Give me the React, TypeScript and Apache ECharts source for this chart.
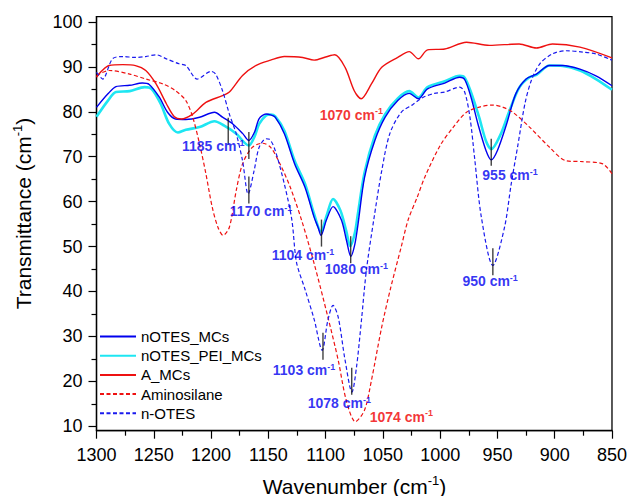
import React, { useEffect, useRef } from "react";
import * as echarts from "echarts";

// [wavenumber, transmittance]
const nOTES_MCs: number[][] = [
  [1300, 81.0], [1290, 84.0], [1283, 85.6], [1271, 85.9], [1260, 86.4], [1254, 86.1],
  [1245, 83.2], [1238, 79.9], [1231, 78.4], [1222, 78.3], [1210, 78.8], [1197, 79.9],
  [1190, 78.8], [1181, 77.3], [1172.5, 75.2], [1167, 73.6], [1162, 75.5], [1158, 78.5],
  [1152, 79.5], [1148, 79.3], [1144, 78.8], [1136, 75.1], [1127, 68.4], [1118, 63.2],
  [1110, 56.5], [1106.6, 54.3], [1104, 52.5], [1099.3, 55.9], [1093.5, 58.9], [1086.2, 55.9],
  [1081.8, 51.4], [1078, 47.8], [1074.5, 50.5], [1071.7, 55], [1066, 65.4], [1057, 73.6],
  [1048, 78.8], [1037, 82.5], [1027, 84.1], [1019, 82.9], [1011, 85.1], [996, 86.4],
  [983, 87.7], [978.6, 87.2], [973, 83.2], [967, 77.3], [960, 71.4], [955.4, 69.3],
  [950, 71.4], [942, 77.3], [934, 84.0], [925, 87.3], [916, 88.4], [904.5, 90.3],
  [893, 90.3], [878, 89.5], [864, 88.0], [850, 85.8],
];

const nOTES_PEI_MCs: number[][] = [
  [1300, 78.9], [1290, 82.5], [1283, 84.4], [1271, 84.6], [1258, 85.5], [1252, 85.1],
  [1244, 81.8], [1236.5, 77.3], [1229, 75.4], [1222, 76.0], [1210, 76.6], [1197, 77.9],
  [1188.5, 76.9], [1178, 75.1], [1167, 72.5], [1162, 74.5], [1158, 77.3], [1152, 79.2],
  [1148, 79.4], [1144, 79.0], [1136, 75.8], [1127, 69.1], [1118, 64.0], [1110, 57.2],
  [1104, 53.3], [1099, 57], [1093.5, 60.6], [1087, 58], [1082, 53.5], [1078.5, 50.1],
  [1074.5, 53], [1072, 57], [1066, 66.5], [1057, 74.7], [1048, 79.5], [1037, 83],
  [1027, 84.6], [1019, 83.2], [1011, 85.5], [996, 86.8], [983, 88.0], [978.6, 87.6],
  [973, 84.3], [966, 78.8], [960, 73.5], [955.4, 71.7], [947, 75.1], [939.4, 80.3],
  [930.7, 85.5], [922, 87.7], [916, 88.2], [904.5, 90.3], [893, 90.2], [878, 89.2],
  [864, 87.3], [850, 84.9],
];

const A_MCs: number[][] = [
  [1300, 87.7], [1295, 89.2], [1289, 90.3], [1277, 90.5], [1266, 90.3], [1257, 89.2],
  [1248, 86.2], [1239, 81.8], [1232, 78.9], [1226, 78.4], [1216, 79.5], [1204.5, 82.1],
  [1190, 83.6], [1184, 84.4], [1172.5, 88.1], [1161, 90.3], [1148, 91.5], [1136, 92.3],
  [1120, 92.1], [1110, 91.5], [1100, 92.2], [1092, 92.7], [1083, 89.9], [1075, 84.7],
  [1069, 82.9], [1060, 86.2], [1051, 89.9], [1037, 92.1], [1027, 93.4], [1019, 91.8],
  [1011, 93.8], [996, 94.0], [977, 95.5], [957, 94.8], [931, 95.1], [916, 94.2],
  [902, 95.1], [878, 94.4], [850, 92.0],
];

const Aminosilane: number[][] = [
  [1300, 88.1], [1289, 89.2], [1271, 88.4], [1257, 87.3], [1242, 86.2], [1231, 84.7],
  [1222, 82.5], [1216, 78.8], [1210, 72.8], [1204.5, 66.2], [1199, 58.8], [1194, 54.3],
  [1189.5, 52.5], [1184, 54.3], [1178, 62.5], [1172.5, 68.4], [1164, 72.1], [1155, 73.0],
  [1148, 72.1], [1140, 68.5], [1131, 63.3], [1121, 55.9], [1110, 46.2], [1098, 34.3],
  [1089, 24.7], [1082, 15.8], [1074, 11.0], [1066, 13.6], [1060, 20.2], [1051, 32.1],
  [1043, 41.0], [1034, 49.9], [1028, 55.9], [1020, 61.0], [1013.5, 65.4], [1000, 72.5],
  [988.5, 76.6], [977, 79.9], [965, 81.1], [954, 81.5], [945, 81.0], [936.5, 79.9],
  [922, 76.6], [904.5, 72.1], [890, 69.1], [875.5, 68.9], [858, 68.4], [850, 66.2],
];

const nOTES: number[][] = [
  [1300, 88.8], [1294.6, 87.3], [1286, 91.8], [1277, 92.3], [1266, 92.1], [1257, 92.3],
  [1248, 92.7], [1239, 91.8], [1228, 90.7], [1222, 90.3], [1212, 87.3], [1200, 89.0],
  [1196, 88.4], [1190, 84.7], [1184, 79.5], [1178, 75.1], [1172.5, 69.1], [1167.6, 61.7],
  [1162.4, 66.9], [1158, 72.1], [1152, 74.0], [1149, 73.9], [1144, 71.4], [1136, 63.9],
  [1129.5, 56], [1125.4, 46.5], [1118, 40.5], [1110, 33.8], [1103, 26.9], [1098, 33.6],
  [1093.5, 36.9], [1089, 34.3], [1083, 24.7], [1077, 17.6], [1073, 23.2], [1068.7, 33.6],
  [1064.4, 44.7], [1058, 55.9], [1051, 66.9], [1044, 75.1], [1034, 79.9], [1024, 81.6],
  [1015, 83.2], [1005, 84.1], [996, 84.4], [983, 85.5], [978.6, 84.4], [974, 78.8],
  [970, 69.9], [964, 56.5], [954, 45.8], [943.8, 54.3], [938, 63.9], [932, 72.8],
  [926, 81.8], [920.5, 86.9], [913, 90.7], [902, 92.9], [890, 93.6], [875.5, 93.3],
  [864, 92.9], [850, 91.5],
];

const seriesNames = ["nOTES_MCs", "nOTES_PEI_MCs", "A_MCs", "Aminosilane", "n-OTES"];

const yMajorTicks = [10, 20, 30, 40, 50, 60, 70, 80, 90, 100];
const yMinorTicks = [15, 25, 35, 45, 55, 65, 75, 85, 95];

// peak marker positions [wavenumber, transmittance]
const peakTicks: number[][] = [
  [1185, 75.7], [1167, 72.5], [1167, 62.6], [1103.6, 53.0], [1078.1, 49.3],
  [1102.3, 27.8], [1077.2, 20.0], [955.4, 71.0], [954, 46.6],
];

// peak labels: text and anchor [wavenumber, transmittance]
const blueLabels = [
  { name: "1185", value: [1225.4, 72.3] },
  { name: "1170", value: [1183.6, 57.9] },
  { name: "1104", value: [1147, 48.1] },
  { name: "1080", value: [1100.7, 45.0] },
  { name: "1103", value: [1146.1, 22.5] },
  { name: "1078", value: [1115.6, 15.1] },
  { name: "955", value: [963.2, 65.9] },
  { name: "950", value: [980.6, 42.3] },
];
const redLabels = [
  { name: "1070", value: [1105.2, 79.3] },
  { name: "1074", value: [1061.5, 12.1] },
];

const FONT = "'Liberation Sans', Arial, Helvetica, sans-serif";

function labelSeries(name: string, data: any[], color: string) {
  return {
    name,
    type: "scatter",
    data,
    symbolSize: 0,
    silent: true,
    z: 5,
    label: {
      show: true,
      position: [0, 0],
      align: "left",
      verticalAlign: "middle",
      formatter: (p: any) => `{a|${p.name} cm}{s|-1}`,
      rich: {
        a: { fontFamily: FONT, fontSize: 14, fontWeight: "bold", color, lineHeight: 16 },
        s: { fontFamily: FONT, fontSize: 9, fontWeight: "bold", color, verticalAlign: "top", lineHeight: 10 },
      },
    },
  };
}

export default function App() {
  const ref = useRef<HTMLDivElement>(null);
  useEffect(() => {
    if (!ref.current) return;
    const chart = echarts.init(ref.current, undefined, { renderer: "svg" });
    const dashed = [4, 2.5];
    chart.setOption({
      animation: false,
      backgroundColor: "#fff",
      grid: {
        left: 96.5,
        right: 17.5,
        top: 16.6,
        bottom: 65.3,
        show: true,
        borderColor: "#000",
        borderWidth: 1.3,
        backgroundColor: "transparent",
      },
      legend: {
        data: seriesNames,
        orient: "vertical",
        left: 99,
        top: 329,
        padding: 0,
        itemWidth: 36,
        itemHeight: 10,
        itemGap: 4.2,
        itemStyle: { opacity: 0 },
        textStyle: { fontFamily: FONT, fontSize: 15, color: "#000" },
        selectedMode: false,
      },
      xAxis: {
        type: "value",
        min: 850,
        max: 1300,
        interval: 50,
        inverse: true,
        axisLine: { show: true, lineStyle: { color: "#000", width: 1.3 } },
        axisTick: { show: true, inside: false, length: 8, lineStyle: { color: "#000", width: 1.2 } },
        minorTick: { show: true, splitNumber: 2, length: 5, lineStyle: { color: "#000", width: 1.2 } },
        axisLabel: { fontFamily: FONT, fontSize: 18, color: "#000", margin: 15, formatter: (v: number) => String(v) },
        splitLine: { show: false },
        minorSplitLine: { show: false },
      },
      yAxis: [
        {
          type: "value",
          min: 9,
          max: 101.2,
          position: "left",
          axisLine: { show: true, lineStyle: { color: "#000", width: 1.3 } },
          axisTick: { show: true, inside: false, length: 8, customValues: yMajorTicks, lineStyle: { color: "#000", width: 1.2 } },
          axisLabel: { fontFamily: FONT, fontSize: 18, color: "#000", margin: 14, customValues: yMajorTicks },
          splitLine: { show: false },
        },
        {
          type: "value",
          min: 9,
          max: 101.2,
          position: "left",
          axisLine: { show: false },
          axisTick: { show: true, inside: false, length: 5, customValues: yMinorTicks, lineStyle: { color: "#000", width: 1.2 } },
          axisLabel: { show: false, customValues: yMinorTicks },
          splitLine: { show: false },
        },
      ],
      graphic: [
        {
          type: "text",
          x: 354.5,
          y: 486,
          style: {
            text: "{a|Wavenumber (cm}{s|-1}{a|)}",
            align: "center",
            verticalAlign: "middle",
            rich: {
              a: { fontFamily: FONT, fontSize: 21, fill: "#000", lineHeight: 24 },
              s: { fontFamily: FONT, fontSize: 13, fill: "#000", verticalAlign: "top", lineHeight: 13 },
            },
          },
        },
        {
          type: "text",
          x: 23,
          y: 213.5,
          rotation: Math.PI / 2,
          style: {
            text: "{a|Transmittance (cm}{s|-1}{a|)}",
            align: "center",
            verticalAlign: "middle",
            rich: {
              a: { fontFamily: FONT, fontSize: 21, fill: "#000", lineHeight: 24 },
              s: { fontFamily: FONT, fontSize: 13, fill: "#000", verticalAlign: "top", lineHeight: 13 },
            },
          },
        },
      ],
      series: [
        {
          name: "nOTES_PEI_MCs",
          type: "line",
          data: nOTES_PEI_MCs,
          symbol: "none",
          smooth: 0.3,
          lineStyle: { color: "#1ee6f2", width: 2.6 },
          itemStyle: { color: "#1ee6f2" },
          z: 2,
        },
        {
          name: "nOTES_MCs",
          type: "line",
          data: nOTES_MCs,
          symbol: "none",
          smooth: 0.3,
          lineStyle: { color: "#0000ee", width: 1.4 },
          itemStyle: { color: "#0000ee" },
          z: 3,
        },
        {
          name: "A_MCs",
          type: "line",
          data: A_MCs,
          symbol: "none",
          smooth: 0.3,
          lineStyle: { color: "#ee1111", width: 1.4 },
          itemStyle: { color: "#ee1111" },
          z: 3,
        },
        {
          name: "Aminosilane",
          type: "line",
          data: Aminosilane,
          symbol: "none",
          smooth: 0.3,
          lineStyle: { color: "#ee1111", width: 1.2, type: dashed },
          itemStyle: { color: "#ee1111" },
          z: 3,
        },
        {
          name: "n-OTES",
          type: "line",
          data: nOTES,
          symbol: "none",
          smooth: 0.3,
          lineStyle: { color: "#1a1aee", width: 1.2, type: dashed },
          itemStyle: { color: "#1a1aee" },
          z: 3,
        },
        {
          name: "peakTicks",
          type: "scatter",
          data: peakTicks,
          symbol: "rect",
          symbolSize: [1.4, 27],
          silent: true,
          itemStyle: { color: "#111" },
          z: 4,
        },
        labelSeries("blueLabels", blueLabels, "#0000f0"),
        labelSeries("redLabels", redLabels, "#f00000"),
      ],
    });
    return () => chart.dispose();
  }, []);
  return (
    <div
      ref={ref}
      style={{ position: "fixed", left: 0, top: 0, width: 630, height: 496, background: "#fff" }}
    />
  );
}
